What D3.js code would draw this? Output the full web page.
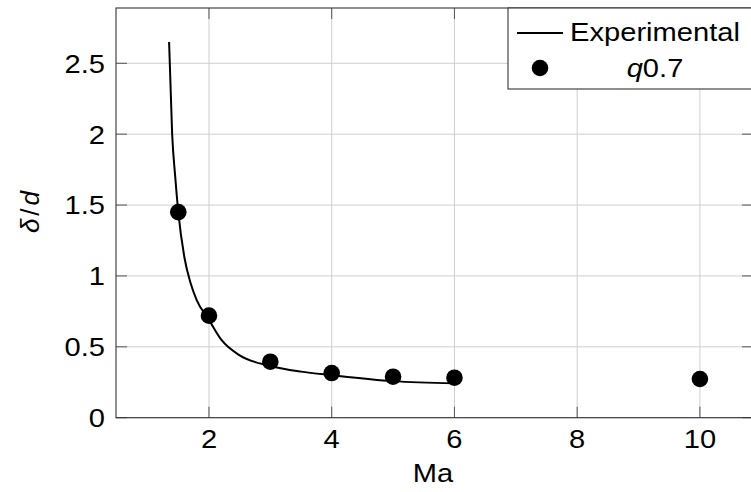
<!DOCTYPE html>
<html lang="en">
<head>
    <meta charset="UTF-8">
    <title>delta/d vs Ma</title>
    <script src="https://d3js.org/d3.v7.min.js"></script>
    <style>
        body { margin: 0; background: #fff; }
        text { font-family: "Liberation Sans", Arial, sans-serif; fill: #000; }
    </style>
</head>
<body>
    <svg></svg>

    <script>
        const w = 751;
        const h = 492;

        // experimental curve
        const expMa = [1.35, 1.4, 1.45, 1.5, 1.6, 1.7, 1.8, 2.0, 2.2, 2.5, 3.0, 3.5, 4.0, 5.0, 6.0];
        const expDelta = [2.65, 2.0, 1.7, 1.45, 1.13, 0.95, 0.83, 0.69, 0.55, 0.44, 0.365, 0.325, 0.30, 0.258, 0.243];

        // q0.7 points
        const qMa = [1.5, 2, 3, 4, 5, 6, 10];
        const qDelta = [1.45, 0.72, 0.395, 0.315, 0.289, 0.282, 0.273];

        const xTicks = [2, 4, 6, 8, 10];
        const yTicks = [0, 0.5, 1, 1.5, 2, 2.5];

        const pLeft = 116, pRight = 753, pTop = 8, pBottom = 417.7;
        const fs = 26;
        const stretch = 1.12;

        const svg = d3.select("svg").attr("width", w).attr("height", h);

        const x = d3.scaleLinear().domain([0.485, 10.865]).range([pLeft, pRight]);
        const y = d3.scaleLinear().domain([0, 2.89]).range([pBottom, pTop]);

        // grid
        const grid = svg.append("g");
        grid.selectAll(".gx").data(xTicks).enter().append("line")
            .attr("x1", d => x(d)).attr("x2", d => x(d))
            .attr("y1", pTop).attr("y2", pBottom)
            .attr("stroke", "#cfcfcf").attr("stroke-width", 1);
        grid.selectAll(".gy").data(yTicks).enter().append("line")
            .attr("x1", pLeft).attr("x2", pRight)
            .attr("y1", d => y(d)).attr("y2", d => y(d))
            .attr("stroke", "#cfcfcf").attr("stroke-width", 1);

        // ticks, drawn inward on all sides
        const tl = 11;
        const ticks = svg.append("g").attr("stroke", "#555").attr("stroke-width", 1);
        xTicks.forEach(t => {
            ticks.append("line").attr("x1", x(t)).attr("x2", x(t)).attr("y1", pBottom).attr("y2", pBottom - tl);
            ticks.append("line").attr("x1", x(t)).attr("x2", x(t)).attr("y1", pTop).attr("y2", pTop + tl);
        });
        yTicks.forEach(t => {
            ticks.append("line").attr("x1", pLeft).attr("x2", pLeft + tl).attr("y1", y(t)).attr("y2", y(t));
            ticks.append("line").attr("x1", pRight).attr("x2", pRight - tl).attr("y1", y(t)).attr("y2", y(t));
        });

        // frame
        svg.append("rect")
            .attr("x", pLeft).attr("y", pTop)
            .attr("width", pRight - pLeft).attr("height", pBottom - pTop)
            .attr("fill", "none").attr("stroke", "#333").attr("stroke-width", 1.1);

        // tick labels
        svg.append("g").selectAll("text").data(xTicks).enter().append("text")
            .attr("transform", d => `translate(${x(d)},${448}) scale(${stretch},1)`)
            .attr("text-anchor", "middle")
            .attr("font-size", fs)
            .text(d => d);
        svg.append("g").selectAll("text").data(yTicks).enter().append("text")
            .attr("transform", d => `translate(${105},${y(d)}) scale(${stretch},1)`)
            .attr("dy", "0.36em")
            .attr("text-anchor", "end")
            .attr("font-size", fs)
            .text(d => d);

        // axis titles
        svg.append("text")
            .attr("transform", `translate(${433},${482}) scale(${stretch},1)`)
            .attr("text-anchor", "middle")
            .attr("font-size", fs)
            .text("Ma");
        const yl = svg.append("text")
            .attr("transform", `translate(${39},${212}) rotate(-90)`)
            .attr("text-anchor", "middle")
            .attr("font-size", fs);
        yl.append("tspan").attr("font-style", "italic").text("δ");
        yl.append("tspan").attr("dx", 3).text("/");
        yl.append("tspan").attr("dx", 3).attr("font-style", "italic").text("d");

        // experimental line
        const line = d3.line()
            .x((d, i) => x(expMa[i]))
            .y(d => y(d))
            .curve(d3.curveMonotoneX);
        svg.append("path")
            .attr("d", line(expDelta))
            .attr("fill", "none")
            .attr("stroke", "#000")
            .attr("stroke-width", 2);

        // q0.7 markers
        svg.append("g").selectAll("circle").data(qDelta).enter().append("circle")
            .attr("cx", (d, i) => x(qMa[i]))
            .attr("cy", d => y(d))
            .attr("r", 8.3)
            .attr("fill", "#000");

        // legend
        const lg = svg.append("g");
        lg.append("rect")
            .attr("x", 508).attr("y", pTop)
            .attr("width", 246).attr("height", 81)
            .attr("fill", "#fff").attr("stroke", "#333").attr("stroke-width", 1.1);
        lg.append("line")
            .attr("x1", 517).attr("x2", 563).attr("y1", 33).attr("y2", 33)
            .attr("stroke", "#000").attr("stroke-width", 2);
        lg.append("circle").attr("cx", 540).attr("cy", 68).attr("r", 8.3).attr("fill", "#000");
        lg.append("text")
            .attr("transform", `translate(${655},${41}) scale(${stretch},1)`)
            .attr("text-anchor", "middle")
            .attr("font-size", fs)
            .text("Experimental");
        const qt = lg.append("text")
            .attr("transform", `translate(${655},${77}) scale(${stretch},1)`)
            .attr("text-anchor", "middle")
            .attr("font-size", fs);
        qt.append("tspan").attr("font-style", "italic").text("q");
        qt.append("tspan").text("0.7");
    </script>
</body>
</html>
